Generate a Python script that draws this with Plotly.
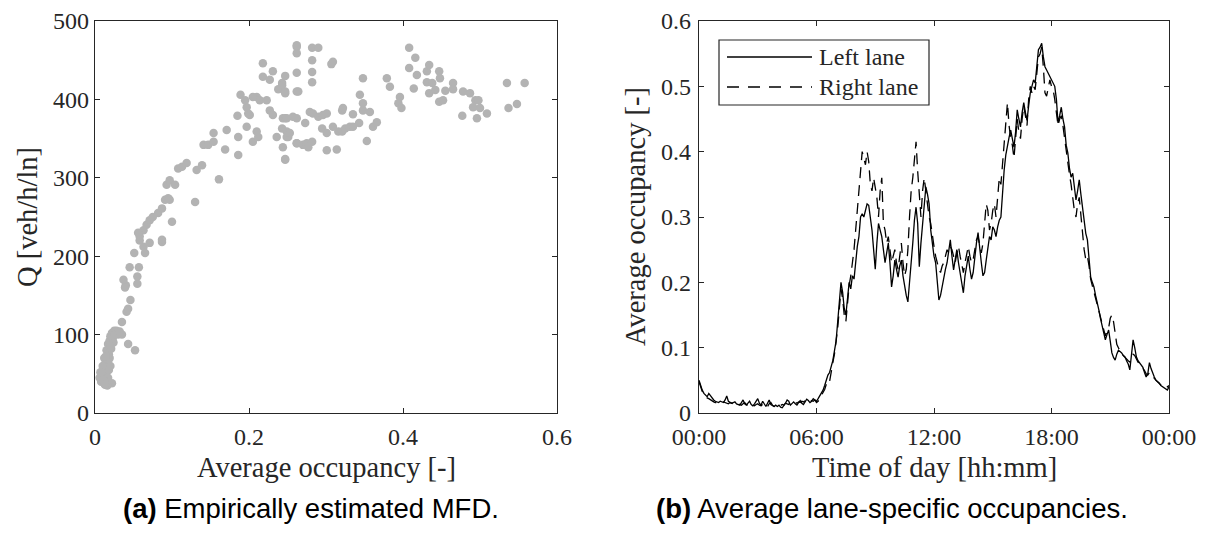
import plotly.graph_objects as go

# ---------------- data: (a) empirical MFD ----------------
mfd_occ = [
    0.008, 0.010, 0.012, 0.009, 0.011, 0.013, 0.015, 0.014, 0.016, 0.012, 0.018, 0.015,
    0.017, 0.019, 0.020, 0.022, 0.025, 0.028, 0.030, 0.018, 0.020, 0.017, 0.022, 0.019,
    0.021, 0.023, 0.016, 0.010, 0.014, 0.024, 0.006, 0.007, 0.011, 0.013, 0.020, 0.026,
    0.032, 0.035,
    0.043, 0.052, 0.035, 0.041, 0.043, 0.046, 0.037, 0.040, 0.039, 0.045, 0.051, 0.055,
    0.055, 0.057, 0.063, 0.065, 0.058, 0.071, 0.087,
    0.058, 0.063, 0.067, 0.056, 0.071, 0.075, 0.082, 0.087, 0.087, 0.100, 0.091, 0.095,
    0.097, 0.093, 0.097, 0.104, 0.108, 0.113, 0.119, 0.130, 0.132, 0.139, 0.141, 0.147,
    0.154, 0.154, 0.161, 0.169, 0.171, 0.186, 0.186, 0.185, 0.189, 0.197, 0.199, 0.197,
    0.201, 0.205, 0.212, 0.210, 0.210, 0.214, 0.218, 0.218, 0.223, 0.227, 0.227, 0.231,
    0.231, 0.236, 0.238, 0.243, 0.247, 0.247, 0.244, 0.247, 0.249, 0.251, 0.257, 0.262,
    0.262, 0.262, 0.262, 0.264, 0.195, 0.205,
    0.243, 0.247, 0.262, 0.262, 0.282, 0.290, 0.282, 0.282, 0.282, 0.309, 0.307, 0.247,
    0.243, 0.249, 0.262, 0.249, 0.253, 0.244, 0.247, 0.262, 0.270, 0.275, 0.282, 0.277,
    0.273, 0.279, 0.283, 0.290, 0.296, 0.301, 0.295, 0.301, 0.309, 0.316, 0.321, 0.325,
    0.331, 0.335, 0.343, 0.301, 0.314, 0.321, 0.322, 0.335, 0.344, 0.348, 0.348, 0.348,
    0.357, 0.353, 0.361, 0.366, 0.379, 0.383, 0.396, 0.394, 0.398, 0.408, 0.408, 0.416,
    0.418, 0.414, 0.431, 0.434, 0.431, 0.438, 0.434, 0.442, 0.447, 0.448, 0.455, 0.447,
    0.452, 0.465, 0.465, 0.478, 0.487, 0.494, 0.498, 0.491, 0.500, 0.509, 0.477, 0.496,
    0.535, 0.558, 0.537, 0.548,
]
mfd_flow = [
    40, 45, 38, 50, 55, 48, 42, 60, 65, 70, 75, 80,
    88, 92, 98, 102, 105, 105, 100, 55, 60, 45, 38, 70,
    82, 95, 35, 60, 72, 90, 45, 52, 42, 36, 85, 100,
    104, 100,
    88, 80, 116, 129, 133, 144, 170, 163, 160, 186, 204, 174,
    165, 186, 212, 204, 220, 217, 218,
    225, 233, 240, 230, 246, 250, 255, 261, 221, 244, 272, 274,
    272, 291, 297, 291, 312, 314, 319, 269, 310, 316, 342, 342,
    346, 357, 298, 336, 361, 329, 352, 379, 406, 365, 382, 390,
    380, 346, 352, 359, 403, 399, 429, 446, 399, 425, 386, 436,
    380, 352, 413, 421, 430, 408, 376, 323, 359, 352, 378, 467,
    459, 434, 344, 410, 399, 403,
    418, 410, 469, 410, 466, 466, 450, 435, 422, 448, 445, 376,
    363, 376, 376, 352, 357, 339, 324, 344, 342, 344, 346, 339,
    370, 384, 382, 378, 380, 382, 363, 357, 365, 359, 359, 363,
    365, 365, 370, 335, 336, 386, 389, 381, 406, 395, 386, 427,
    384, 347, 365, 371, 427, 416, 403, 395, 389, 466, 440, 453,
    431, 414, 436, 444, 422, 421, 408, 412, 436, 427, 411, 397,
    399, 421, 413, 410, 408, 399, 399, 390, 389, 382, 379, 376,
    421, 421, 389, 394,
]

# ---------------- data: (b) lane occupancies, 5-min resolution ----------------
left_lane = [
    0.050, 0.042, 0.035, 0.030, 0.028, 0.025, 0.030, 0.026, 0.022, 0.020, 0.018, 0.017,
    0.016, 0.018, 0.017, 0.016, 0.020, 0.026, 0.018, 0.016, 0.015, 0.016, 0.017, 0.014,
    0.013, 0.012, 0.016, 0.020, 0.014, 0.012, 0.015, 0.018, 0.013, 0.011, 0.014, 0.019,
    0.022, 0.015, 0.012, 0.018, 0.013, 0.010, 0.015, 0.020, 0.013, 0.011, 0.010, 0.012,
    0.010, 0.012, 0.009, 0.008, 0.011, 0.015, 0.020, 0.018, 0.012, 0.015, 0.017, 0.014,
    0.012, 0.016, 0.019, 0.015, 0.013, 0.017, 0.021, 0.019, 0.016, 0.018, 0.022, 0.020,
    0.018, 0.022, 0.026, 0.030, 0.035, 0.042, 0.050, 0.058, 0.062, 0.070, 0.080, 0.095,
    0.110, 0.140, 0.170, 0.200, 0.185, 0.160, 0.150, 0.180, 0.200, 0.190, 0.210, 0.205,
    0.235, 0.255, 0.270, 0.300, 0.305, 0.300, 0.310, 0.320, 0.318, 0.300, 0.280, 0.250,
    0.220, 0.260, 0.290, 0.280, 0.270, 0.250, 0.230, 0.245, 0.260, 0.230, 0.193, 0.210,
    0.234, 0.220, 0.208, 0.225, 0.234, 0.210, 0.193, 0.180, 0.170, 0.200, 0.219, 0.260,
    0.295, 0.315, 0.290, 0.224, 0.260, 0.285, 0.320, 0.346, 0.335, 0.320, 0.280, 0.254,
    0.240, 0.230, 0.200, 0.173, 0.180, 0.195, 0.204, 0.220, 0.230, 0.245, 0.265, 0.240,
    0.219, 0.235, 0.250, 0.230, 0.214, 0.200, 0.184, 0.210, 0.225, 0.240, 0.220, 0.205,
    0.215, 0.240, 0.260, 0.276, 0.250, 0.230, 0.210, 0.215, 0.234, 0.250, 0.270, 0.265,
    0.285, 0.280, 0.270, 0.285, 0.295, 0.300, 0.340, 0.372, 0.395, 0.410, 0.422, 0.433,
    0.420, 0.407, 0.430, 0.464, 0.450, 0.438, 0.460, 0.475, 0.460, 0.448, 0.470, 0.490,
    0.500, 0.510, 0.505, 0.530, 0.556, 0.560, 0.566, 0.545, 0.530, 0.525, 0.520, 0.515,
    0.510, 0.505, 0.500, 0.480, 0.444, 0.455, 0.468, 0.450, 0.438, 0.410, 0.398, 0.375,
    0.361, 0.367, 0.345, 0.326, 0.340, 0.357, 0.335, 0.315, 0.300, 0.275, 0.265, 0.240,
    0.208, 0.200, 0.193, 0.180, 0.170, 0.158, 0.145, 0.132, 0.120, 0.112, 0.120, 0.127,
    0.110, 0.092, 0.085, 0.081, 0.090, 0.096, 0.094, 0.092, 0.088, 0.086, 0.080, 0.075,
    0.066, 0.090, 0.112, 0.100, 0.086, 0.080, 0.077, 0.073, 0.070, 0.062, 0.055, 0.060,
    0.077, 0.068, 0.060, 0.055, 0.050, 0.048, 0.046, 0.042, 0.040, 0.038, 0.036, 0.035,
    0.040,
]
right_lane = [
    0.048, 0.040, 0.033, 0.028, 0.025, 0.023, 0.022, 0.020, 0.018, 0.017, 0.016, 0.016,
    0.015, 0.016, 0.015, 0.017, 0.016, 0.015, 0.014, 0.016, 0.015, 0.014, 0.013, 0.014,
    0.015, 0.013, 0.012, 0.014, 0.016, 0.013, 0.012, 0.014, 0.015, 0.012, 0.011, 0.013,
    0.014, 0.012, 0.011, 0.013, 0.015, 0.012, 0.010, 0.014, 0.016, 0.012, 0.010, 0.011,
    0.012, 0.010, 0.011, 0.013, 0.012, 0.015, 0.014, 0.013, 0.016, 0.015, 0.014, 0.016,
    0.015, 0.017, 0.016, 0.018, 0.017, 0.019, 0.018, 0.017, 0.020, 0.019, 0.018, 0.020,
    0.016, 0.018, 0.022, 0.026, 0.030, 0.036, 0.044, 0.050, 0.048, 0.060, 0.077, 0.090,
    0.110, 0.130, 0.160, 0.190, 0.175, 0.150, 0.140, 0.170, 0.195, 0.210, 0.230, 0.250,
    0.280, 0.310, 0.330, 0.360, 0.400, 0.390, 0.380, 0.400, 0.385, 0.350, 0.340, 0.360,
    0.345, 0.330, 0.300, 0.340, 0.360, 0.290, 0.280, 0.260, 0.270, 0.250, 0.230, 0.240,
    0.250, 0.230, 0.220, 0.240, 0.260, 0.230, 0.210, 0.220, 0.250, 0.300, 0.340, 0.360,
    0.390, 0.415, 0.370, 0.330, 0.300, 0.340, 0.360, 0.340, 0.320, 0.300, 0.290, 0.270,
    0.255, 0.240, 0.230, 0.220, 0.215, 0.225, 0.230, 0.240, 0.250, 0.245, 0.255, 0.250,
    0.240, 0.230, 0.245, 0.255, 0.240, 0.225, 0.215, 0.230, 0.245, 0.255, 0.240, 0.230,
    0.235, 0.250, 0.265, 0.270, 0.255, 0.245, 0.260, 0.290, 0.320, 0.310, 0.280, 0.290,
    0.310, 0.320, 0.300, 0.330, 0.360, 0.350, 0.380, 0.413, 0.440, 0.475, 0.440, 0.420,
    0.410, 0.390, 0.420, 0.450, 0.430, 0.420, 0.450, 0.470, 0.455, 0.440, 0.480, 0.500,
    0.490, 0.500, 0.495, 0.520, 0.545, 0.550, 0.560, 0.530, 0.490, 0.485, 0.500, 0.510,
    0.500, 0.495, 0.480, 0.460, 0.440, 0.450, 0.455, 0.440, 0.420, 0.400, 0.380, 0.365,
    0.350, 0.330, 0.310, 0.300, 0.320, 0.330, 0.300, 0.280, 0.250, 0.235, 0.240, 0.225,
    0.205, 0.195, 0.185, 0.175, 0.165, 0.155, 0.145, 0.135, 0.125, 0.118, 0.125, 0.130,
    0.145, 0.150, 0.140, 0.120, 0.105, 0.100, 0.095, 0.090, 0.088, 0.085, 0.082, 0.080,
    0.078, 0.085, 0.090, 0.088, 0.082, 0.078, 0.075, 0.072, 0.068, 0.065, 0.060, 0.058,
    0.062, 0.060, 0.057, 0.053, 0.050, 0.047, 0.045, 0.043, 0.040, 0.039, 0.038, 0.040,
    0.042,
]
# minutes since midnight for each sample
time_min = [5 * i for i in range(len(left_lane))]

time_tickvals = [0, 360, 720, 1080, 1440]
time_ticktext = ["00:00", "06:00", "12:00", "18:00", "00:00"]
occ_ticks_a = [0, 0.2, 0.4, 0.6]
flow_ticks = [0, 100, 200, 300, 400, 500]
occ_ticks_b = [0, 0.1, 0.2, 0.3, 0.4, 0.5, 0.6]

# ---------------- styling ----------------
W, H = 1205, 535
SERIF = "Liberation Serif"
SANS = "Liberation Sans"
AX = "#262626"
FS = 24
FT = 28.5

def px(x):
    return x / W

def py(y):
    return 1 - y / H

fig = go.Figure()

fig.add_trace(go.Scatter(
    x=mfd_occ, y=mfd_flow, mode="markers",
    marker=dict(color="#b3b3b3", size=8.5, line=dict(width=0)),
    xaxis="x", yaxis="y", showlegend=False,
))
fig.add_trace(go.Scatter(
    x=time_min, y=left_lane, mode="lines",
    line=dict(color="black", width=1.3), name="Left lane",
    xaxis="x2", yaxis="y2", showlegend=False,
))
fig.add_trace(go.Scatter(
    x=time_min, y=right_lane, mode="lines",
    line=dict(color="black", width=1.3, dash="11px,7px"), name="Right lane",
    xaxis="x2", yaxis="y2", showlegend=False,
))

axis_common = dict(
    showline=True, linecolor=AX, linewidth=1.2, mirror="ticks",
    ticks="inside", ticklen=5, tickwidth=1.2, tickcolor=AX,
    showgrid=False, zeroline=False, automargin=False,
    tickfont=dict(family=SERIF, size=FS, color=AX),
)

ydom = [py(413), py(21)]
fig.update_layout(
    width=W, height=H,
    margin=dict(l=0, r=0, t=0, b=0, pad=0),
    paper_bgcolor="white", plot_bgcolor="white",
    xaxis=dict(domain=[px(95), px(557)], range=[0, 0.6], tickvals=occ_ticks_a,
               ticktext=["0", "0.2", "0.4", "0.6"], anchor="y", ticklabelstandoff=2,
               **axis_common),
    yaxis=dict(domain=ydom, range=[0, 500], tickvals=flow_ticks, anchor="x", **axis_common),
    xaxis2=dict(domain=[px(699), px(1169)], range=[0, 1440], tickvals=time_tickvals,
                ticktext=time_ticktext, anchor="y2", ticklabelstandoff=2, **axis_common),
    yaxis2=dict(domain=ydom, range=[0, 0.6], tickvals=occ_ticks_b,
                ticktext=["0", "0.1", "0.2", "0.3", "0.4", "0.5", "0.6"], anchor="x2",
                ticklabelstandoff=2, **axis_common),
)

def txt(x, y, text, family=SERIF, size=FS, color=AX, angle=0, xanchor="center"):
    return dict(x=px(x), y=py(y), text=text, showarrow=False, textangle=angle,
                xanchor=xanchor, yanchor="middle", xref="paper", yref="paper",
                font=dict(family=family, size=size, color=color))

ann = [
    txt(326, 467, "Average occupancy [-]", size=FT),
    txt(27, 217, "Q [veh/h/ln]", size=FT, angle=-90),
    txt(934, 467, "Time of day [hh:mm]", size=FT),
    txt(635, 217, "Average occupancy [-]", size=FT, angle=-90),
    txt(311, 508, "<b>(a)</b> Empirically estimated MFD.", family=SANS, size=27.5,
        color="black"),
    txt(892, 508, "<b>(b)</b> Average lane-specific occupancies.", family=SANS, size=27.5,
        color="black"),
    txt(817, 57, "Left lane", size=24, xanchor="left"),
    txt(817, 87, "Right lane", size=24, xanchor="left"),
]
fig.update_layout(annotations=ann)

shapes = [
    dict(type="rect", xref="paper", yref="paper", x0=px(719), x1=px(929), y0=py(105), y1=py(40),
         line=dict(color=AX, width=1.2), fillcolor="white", layer="above"),
    dict(type="line", xref="paper", yref="paper", x0=px(727), x1=px(812), y0=py(57), y1=py(57),
         line=dict(color="black", width=1.3)),
    dict(type="line", xref="paper", yref="paper", x0=px(727), x1=px(812), y0=py(87), y1=py(87),
         line=dict(color="black", width=1.3, dash="12px,9px")),
]
fig.update_layout(shapes=shapes)

fig.write_html("out.html")
